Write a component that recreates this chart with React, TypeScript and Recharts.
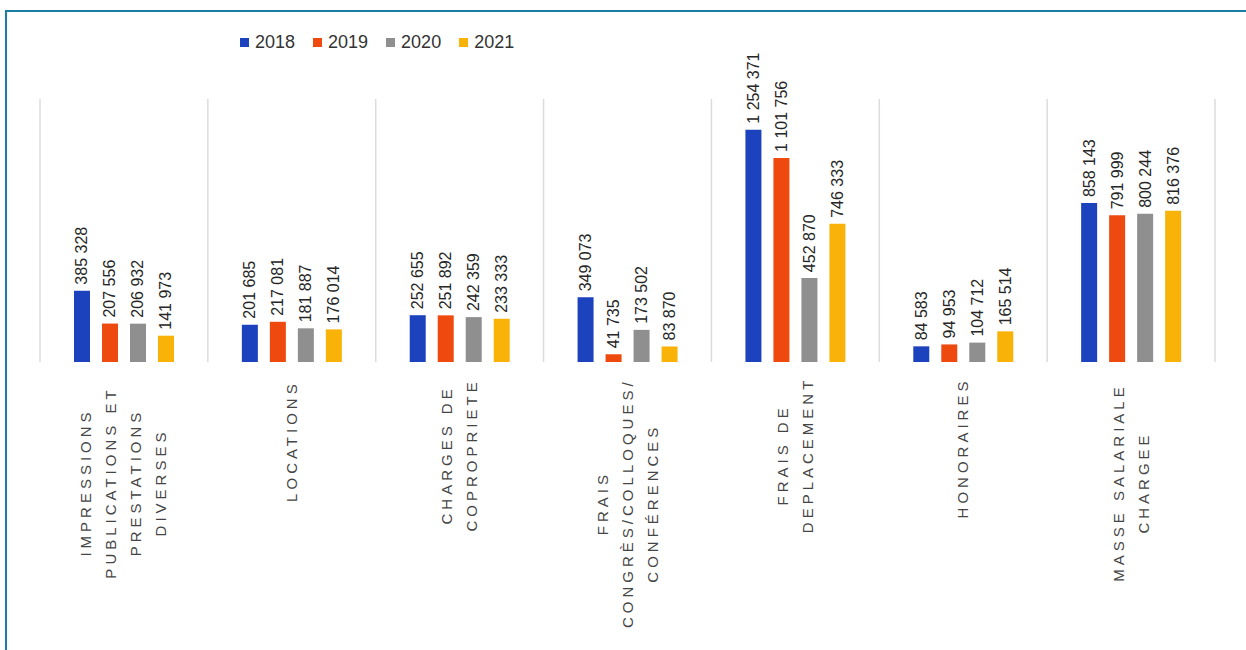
import { BarChart, Bar, XAxis, YAxis, CartesianGrid, Legend, LabelList } from 'recharts';

const categories = [
  'IMPRESSIONS|PUBLICATIONS ET|PRESTATIONS|DIVERSES',
  'LOCATIONS',
  'CHARGES DE|COPROPRIETE',
  'FRAIS|CONGRÈS/COLLOQUES/|CONFÉRENCES',
  'FRAIS DE|DEPLACEMENT',
  'HONORAIRES',
  'MASSE SALARIALE|CHARGEE',
];

const values2018 = [385328, 201685, 252655, 349073, 1254371, 84583, 858143];
const values2019 = [207556, 217081, 251892, 41735, 1101756, 94953, 791999];
const values2020 = [206932, 181887, 242359, 173502, 452870, 104712, 800244];
const values2021 = [141973, 176014, 233333, 83870, 746333, 165514, 816376];

const years = ['2018', '2019', '2020', '2021'];
const COLORS = ['#1d42bd', '#ee4a10', '#8f8f8f', '#f9b208'];

const data = categories.map((name, i) => ({
  name,
  '2018': values2018[i],
  '2019': values2019[i],
  '2020': values2020[i],
  '2021': values2021[i],
}));

const fmt = (v: number) => String(v).replace(/\B(?=(\d{3})+(?!\d))/g, ' ');

function ValueLabel(props: any) {
  const { x, y, width, value } = props;
  const cx = x + width / 2;
  const top = y - 6;
  return (
    <text
      x={cx}
      y={top}
      transform={`rotate(-90, ${cx}, ${top})`}
      textAnchor="start"
      dominantBaseline="central"
      fontSize={16}
      fontFamily="Liberation Sans, Arial, sans-serif"
      fill="#262626"
    >
      {fmt(value)}
    </text>
  );
}

function CategoryTick(props: any) {
  const { x, y, payload } = props;
  const lines: string[] = String(payload.value).split('|');
  const maxLen = Math.max(...lines.map((l) => l.length));
  const center = 9 + (maxLen * 13.8) / 2;
  const n = lines.length;
  return (
    <g transform={`translate(${x},${y})`}>
      <text
        transform="rotate(-90)"
        textAnchor="middle"
        fontSize={15}
        letterSpacing={4}
        fontFamily="Liberation Sans, Arial, sans-serif"
        fill="#454545"
      >
        {lines.map((l, i) => (
          <tspan key={i} x={-center} y={(i - (n - 1) / 2) * 25 + 5}>
            {l}
          </tspan>
        ))}
      </text>
    </g>
  );
}

function LegendContent() {
  return (
    <div style={{ display: 'flex', fontFamily: 'Liberation Sans, Arial, sans-serif', fontSize: 18, color: '#333' }}>
      {years.map((yr, i) => (
        <div key={yr} style={{ display: 'flex', alignItems: 'center', marginRight: 18 }}>
          <span style={{ width: 9, height: 9, background: COLORS[i], display: 'inline-block', marginRight: 6 }} />
          <span>{yr}</span>
        </div>
      ))}
    </div>
  );
}

export default function App() {
  return (
    <>
      <div
        style={{
          position: 'absolute',
          left: 5,
          top: 10,
          width: 1241,
          height: 640,
          borderTop: '2px solid #1a7ea3',
          borderLeft: '2px solid #1a7ea3',
          background: '#fff',
        }}
      />
      <div style={{ position: 'absolute', left: 0, top: 0, width: 1246, height: 650 }}>
        <BarChart
          width={1246}
          height={650}
          data={data}
          margin={{ top: 78, right: 31, bottom: 0, left: 40 }}
          barSize={16}
          barGap={12}
        >
          <CartesianGrid
            horizontal={false}
            stroke="#dcdcdc"
            strokeWidth={1.5}
            verticalCoordinatesGenerator={({ offset }: any) =>
              categories.concat(['']).map((_c, i) => offset.left + (i * offset.width) / categories.length)
            }
          />
          <XAxis
            dataKey="name"
            axisLine={false}
            tickLine={false}
            interval={0}
            height={288}
            tick={<CategoryTick />}
          />
          <YAxis hide domain={[0, 1420000]} />
          <Legend
            verticalAlign="top"
            content={<LegendContent />}
            wrapperStyle={{ position: 'absolute', top: 32, left: 240, width: 'auto' }}
          />
          {years.map((yr, i) => (
            <Bar key={yr} dataKey={yr} fill={COLORS[i]} isAnimationActive={false}>
              <LabelList dataKey={yr} content={<ValueLabel />} />
            </Bar>
          ))}
        </BarChart>
      </div>
    </>
  );
}
